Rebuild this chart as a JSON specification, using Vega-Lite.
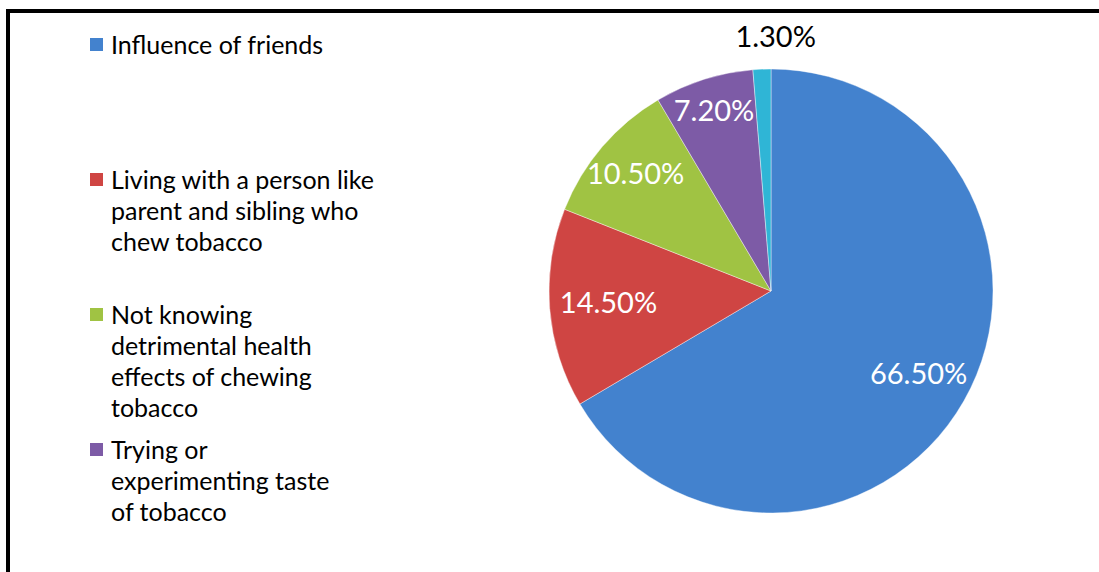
{
  "$schema": "https://vega.github.io/schema/vega-lite/v6.json",
  "width": 1091,
  "height": 561,
  "autosize": {"type": "none"},
  "padding": {"left": 8, "top": 11, "right": 0, "bottom": 0},
  "background": "white",
  "config": {
    "view": {"stroke": null},
    "style": {"guide-label": {"lineHeight": 31}}
  },
  "data": {
    "values": [
      {"reason": "Influence of friends", "value": 66.5, "label": "66.50%"},
      {"reason": "Living with a person like\nparent and sibling who\nchew tobacco", "value": 14.5, "label": "14.50%"},
      {"reason": "Not knowing\ndetrimental health\neffects of chewing\ntobacco", "value": 10.5, "label": "10.50%"},
      {"reason": "Trying or\nexperimenting taste\nof tobacco", "value": 7.2, "label": "7.20%"},
      {"reason": "Others", "value": 1.3, "label": "1.30%"}
    ]
  },
  "layer": [
    {
      "data": {"values": [{"frame": "border"}]},
      "mark": {"type": "rect", "fill": "white", "fillOpacity": 0, "stroke": "black", "strokeWidth": 4, "strokeDash": [1091, 1652, 561], "strokeCap": "square"}
    },
    {
      "mark": {"type": "arc", "x": 763, "y": 280, "outerRadius": 222, "stroke": "#ffffff", "strokeWidth": 1, "strokeOpacity": 0.4},
      "encoding": {
        "theta": {"field": "value", "type": "quantitative", "stack": true},
        "order": {"field": "value", "type": "quantitative", "sort": "descending"},
        "color": {
          "field": "reason",
          "type": "nominal",
          "sort": null,
          "scale": {
            "domain": [
              "Influence of friends",
              "Living with a person like\nparent and sibling who\nchew tobacco",
              "Not knowing\ndetrimental health\neffects of chewing\ntobacco",
              "Trying or\nexperimenting taste\nof tobacco",
              "Others"
            ],
            "range": ["#4382CE", "#CF4543", "#A0C343", "#7D5BA6", "#2FB5D6"]
          },
          "legend": {
            "orient": "none",
            "legendX": 76,
            "legendY": 10,
            "title": null,
            "direction": "vertical",
            "labelExpr": "split(datum.label, '\\n')",
            "labelFont": "Lato",
            "labelFontSize": 25,
            "labelColor": "black",
            "labelLimit": 400,
            "labelBaseline": "top",
            "labelOffset": 2,
            "symbolType": "M-1,0.69L1,0.69L1,2.69L-1,2.69Z",
            "symbolSize": 169,
            "symbolStrokeWidth": 0,
            "gridAlign": "all",
            "rowPadding": 4,
            "padding": 0
          }
        }
      }
    },
    {
      "mark": {
        "type": "text",
        "x": 763,
        "y": 280,
        "radius": {"expr": "datum.value < 2 ? 253 : datum.value < 8 ? 188 : datum.value < 12 ? 178 : datum.value < 20 ? 163 : 170"},
        "dx": {"expr": "datum.value < 2 ? 15 : 0"},
        "font": "Lato",
        "fontSize": 29
      },
      "encoding": {
        "theta": {"field": "value", "type": "quantitative", "stack": true},
        "order": {"field": "value", "type": "quantitative", "sort": "descending"},
        "detail": {"field": "reason", "type": "nominal"},
        "text": {"field": "label", "type": "nominal"},
        "color": {"condition": {"test": "datum.value < 2", "value": "black"}, "value": "white"}
      }
    }
  ]
}
